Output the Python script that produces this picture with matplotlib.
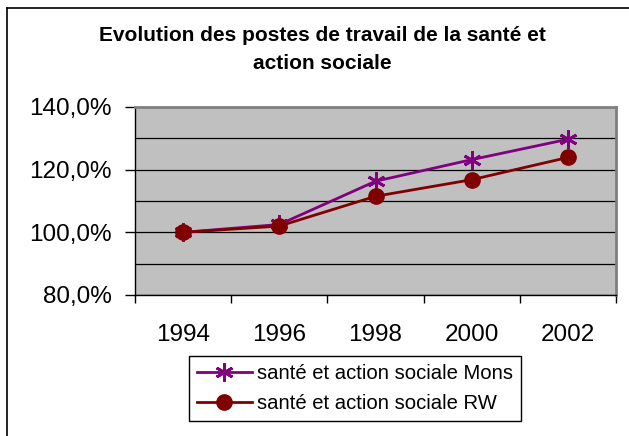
import matplotlib
matplotlib.use("Agg")
import matplotlib.pyplot as plt
from matplotlib.lines import Line2D
from matplotlib.ticker import FixedLocator

plt.rcParams['font.family'] = ['Liberation Sans', 'DejaVu Sans']

years = ["1994", "1996", "1998", "2000", "2002"]
mons = [100.0, 102.5, 116.3, 123.2, 129.7]
rw = [100.0, 102.0, 111.5, 116.8, 123.9]
yticks = [80, 100, 120, 140]
ytick_labels = ["80,0%", "100,0%", "120,0%", "140,0%"]
title = "Evolution des postes de travail de la santé et\naction sociale"
label_mons = "santé et action sociale Mons"
label_rw = "santé et action sociale RW"

W, H = 629, 436
fig = plt.figure(figsize=(W / 100, H / 100), dpi=100)

# outer chart frame (cropped at right and bottom)
fx, fy = 7 / W, 1 - 8 / H
fig.add_artist(Line2D([fx, fx], [-0.1, fy], transform=fig.transFigure, color='black', lw=1.2))
fig.add_artist(Line2D([fx, 1.1], [fy, fy], transform=fig.transFigure, color='black', lw=1.2))

ax = fig.add_axes([135 / W, 1 - 295 / H, 481 / W, 188 / H])
ax.set_facecolor('#C0C0C0')

x = list(range(len(years)))
ax.plot(x, mons, color='#800080', lw=2.0, marker=(6, 2, 0), markersize=13,
        markeredgewidth=2.0, markeredgecolor='#800080', label=label_mons, zorder=3)
ax.plot(x, rw, color='#800000', lw=2.0, marker='o', markersize=11,
        markeredgecolor='#800000', markerfacecolor='#800000', label=label_rw, zorder=4)

ax.set_xlim(-0.5, len(years) - 0.5)
ax.set_ylim(80, 140)

ax.set_yticks(yticks)
ax.set_yticklabels(ytick_labels)
ax.yaxis.set_minor_locator(FixedLocator([90, 110, 130]))
ax.grid(True, axis='y', which='both', color='black', lw=0.9, zorder=1)
ax.set_axisbelow(True)
ax.tick_params(axis='y', which='major', direction='out', length=7, width=1,
               pad=10, labelsize=17.5, colors='black')
ax.tick_params(axis='y', which='minor', length=0)

ax.set_xticks(x)
ax.set_xticklabels(years)
ax.xaxis.set_minor_locator(FixedLocator([i - 0.5 for i in range(len(years) + 1)]))
ax.tick_params(axis='x', which='major', length=0, pad=21, labelsize=17.5)
ax.tick_params(axis='x', which='minor', direction='out', length=6, width=1)

for s in ['left', 'bottom']:
    ax.spines[s].set_color('black')
    ax.spines[s].set_linewidth(1.0)
for s in ['top', 'right']:
    ax.spines[s].set_color('#808080')
    ax.spines[s].set_linewidth(2.0)

fig.text(322 / W, 1 - 26 / H, title, ha='center', va='top', fontsize=15,
         fontweight='bold', linespacing=1.6)

leg = ax.legend(loc='upper left', bbox_to_anchor=(189 / W, 1 - 356 / H),
                bbox_transform=fig.transFigure, borderaxespad=0, fontsize=14.6,
                frameon=True, fancybox=False, edgecolor='black', framealpha=1,
                handlelength=2.7, handletextpad=0.25, labelspacing=0.55,
                borderpad=0.4)
leg.get_frame().set_linewidth(1.0)

fig.savefig("out.png", dpi=100)
